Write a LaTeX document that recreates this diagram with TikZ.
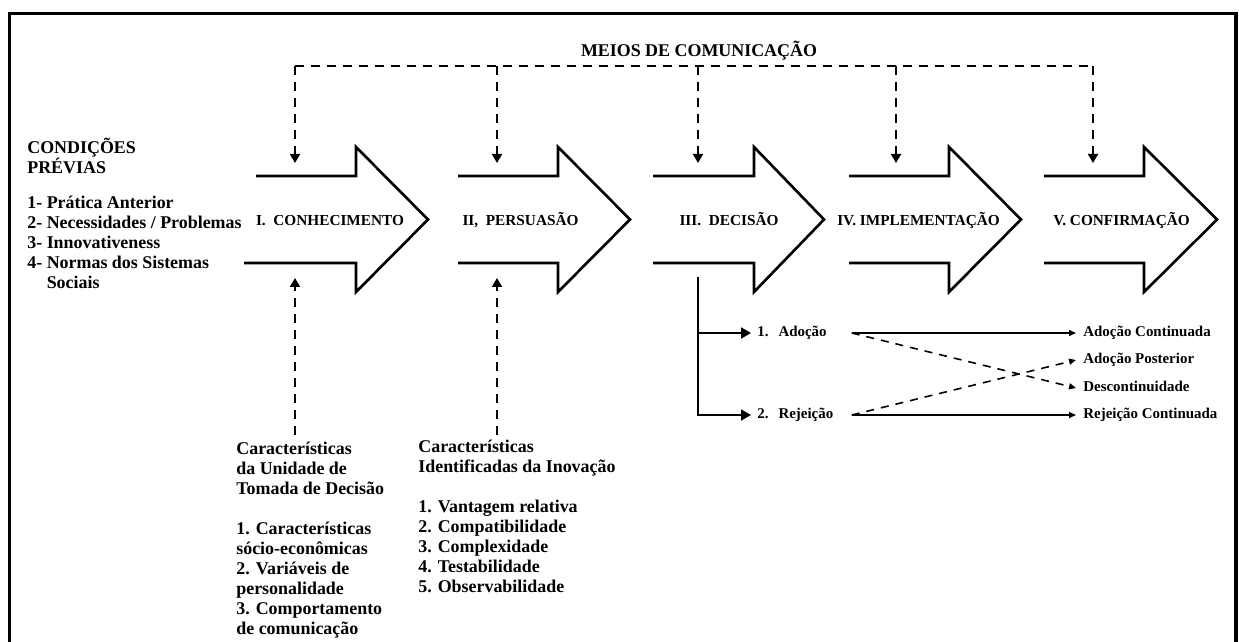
\documentclass[tikz,border=0pt]{standalone}
\usepackage{fontspec}
\setmainfont{Liberation Serif}
\usetikzlibrary{arrows.meta}

\begin{document}
\begin{tikzpicture}[x=0.2cm,y=-0.2cm]
\tikzstyle{etapa}=[line width=1.5pt]
\tikzstyle{rotulo}=[font=\fontsize{8.7}{10}\selectfont\bfseries,inner sep=0pt,anchor=base]
\tikzstyle{texto}=[font=\fontsize{10.2}{11.34}\selectfont\bfseries,align=left,inner sep=0pt,anchor=north west]
\tikzstyle{tracejado}=[line width=1.1pt,dash pattern=on 0.18cm off 0.14cm]
\tikzstyle{canal}=[tracejado,-{Triangle[width=0.2cm,length=0.18cm]}]
\tikzstyle{ramo}=[line width=1.1pt,-{Triangle[width=0.22cm,length=0.2cm]}]
\tikzstyle{saida}=[line width=0.9pt,-{Triangle[width=0.12cm,length=0.14cm]}]
\tikzstyle{escolha}=[font=\fontsize{8.5}{10}\selectfont\bfseries,anchor=west,inner xsep=0.12cm,inner ysep=0pt,text height=0.22cm,text depth=0.07cm,text width=1.76cm,align=left]
\tikzstyle{resultado}=[font=\fontsize{8.5}{10}\selectfont\bfseries,anchor=west,inner xsep=0.14cm,inner ysep=0pt,text height=0.22cm,text depth=0.07cm]

\useasboundingbox (0,0) rectangle (123.9,64.2);
\draw[line width=2pt] (0.95,64.2) -- (0.95,1.33) -- (123.6,1.33) -- (123.6,64.2);

\node[font=\fontsize{10.2}{12}\selectfont\bfseries,inner sep=0pt,anchor=base] (meios) at (69.9,5.67) {MEIOS DE COMUNICAÇÃO};

%the five stages
\draw[etapa] (25.6,17.6) -- (35.6,17.6) -- (35.6,14.7) -- (42.8,21.95) -- (35.6,29.2) -- (35.6,26.3) -- (24.4,26.3);
\draw[etapa] (45.8,17.6) -- (55.8,17.6) -- (55.8,14.7) -- (63.0,21.95) -- (55.8,29.2) -- (55.8,26.3) -- (45.8,26.3);
\draw[etapa] (65.3,17.6) -- (75.4,17.6) -- (75.4,14.7) -- (82.4,21.95) -- (75.4,29.2) -- (75.4,26.3) -- (65.3,26.3);
\draw[etapa] (84.9,17.6) -- (94.9,17.6) -- (94.9,14.7) -- (102.1,21.95) -- (94.9,29.2) -- (94.9,26.3) -- (84.9,26.3);
\draw[etapa] (104.4,17.6) -- (114.4,17.6) -- (114.4,14.7) -- (121.7,21.95) -- (114.4,29.2) -- (114.4,26.3) -- (104.4,26.3);

\node[rotulo] (conhecimento) at (33.0,22.58) {I.\ \ CONHECIMENTO};
\node[rotulo] (persuasao) at (52.05,22.58) {II,\ \ PERSUASÃO};
\node[rotulo] (decisao) at (72.9,22.58) {III.\ \ DECISÃO};
\node[rotulo] (implementacao) at (91.85,22.58) {IV.\ IMPLEMENTAÇÃO};
\node[rotulo] (confirmacao) at (112.15,22.58) {V.\ CONFIRMAÇÃO};

%media lines coming down
\coordinate (m1) at (29.5,6.57);
\coordinate (m2) at (49.7,6.57);
\coordinate (m3) at (69.8,6.57);
\coordinate (m4) at (89.6,6.57);
\coordinate (m5) at (109.3,6.57);
\draw[tracejado] (m1) -- (m5);
\draw[canal] (m1) -- (29.5,16.3);
\draw[canal] (m2) -- (49.7,16.3);
\draw[canal] (m3) -- (69.8,16.3);
\draw[canal] (m4) -- (89.6,16.3);
\draw[canal] (m5) -- (109.3,16.3);

\node[texto] (condicoes) at (2.7,13.8) {CONDIÇÕES\\PRÉVIAS};
\node[texto] (previas) at (2.7,19.55) {1- Prática Anterior\\2- Necessidades / Problemas\\3- Innovativeness\\4- Normas dos Sistemas\\\phantom{4- }Sociais};

\node[texto] (unidade) at (23.6,44.2) {Características\\da Unidade de\\Tomada de Decisão\\[11.5pt]1. Características\\sócio-econômicas\\2. Variáveis de\\personalidade\\3. Comportamento\\de comunicação};
\node[texto] (inovacao) at (41.8,44.0) {Características\\Identificadas da Inovação\\[11.5pt]1. Vantagem relativa\\2. Compatibilidade\\3. Complexidade\\4. Testabilidade\\5. Observabilidade};

\coordinate (sobe1) at (29.5,27.8);
\coordinate (sobe2) at (49.7,27.8);
\draw[canal,shorten <=0.14cm] (sobe1 |- unidade.north) -- (sobe1);
\draw[canal,shorten <=0.14cm] (sobe2 |- unidade.north) -- (sobe2);

%decision outcomes
\node[escolha] (adocao) at (75.1,33.3) {1.\ \ Adoção};
\node[escolha] (rejeicao) at (75.1,41.5) {2.\ \ Rejeição};
\coordinate (galho) at (69.8,27.7);
\draw[ramo] (galho) |- (rejeicao.west);
\draw[ramo] (galho |- adocao.west) -- (adocao.west);

\node[resultado] (continuada) at (107.6,33.3) {Adoção Continuada};
\node[resultado] (posterior) at (107.6,36.0) {Adoção Posterior};
\node[resultado] (descontinuidade) at (107.6,38.8) {Descontinuidade};
\node[resultado] (rejeitada) at (107.6,41.5) {Rejeição Continuada};

\draw[saida] (adocao.east) -- (continuada.west);
\draw[saida] (rejeicao.east) -- (rejeitada.west);
\draw[saida,dash pattern=on 0.16cm off 0.14cm] (adocao.east) -- (descontinuidade.west);
\draw[saida,dash pattern=on 0.16cm off 0.14cm] (rejeicao.east) -- (posterior.west);

\end{tikzpicture}
\end{document}
